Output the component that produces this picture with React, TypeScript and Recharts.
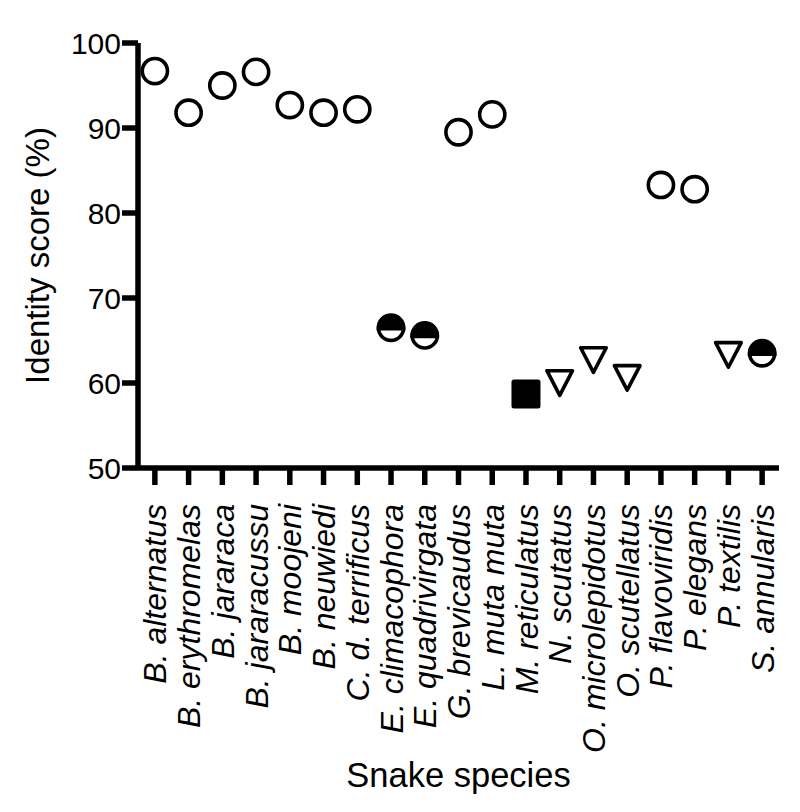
import { ScatterChart, Scatter, XAxis, YAxis } from "recharts";

const species = [
  "B. alternatus",
  "B. erythromelas",
  "B. jararaca",
  "B. jararacussu",
  "B. moojeni",
  "B. neuwiedi",
  "C. d. terrificus",
  "E. climacophora",
  "E. quadrivirgata",
  "G. brevicaudus",
  "L. muta muta",
  "M. reticulatus",
  "N. scutatus",
  "O. microlepidotus",
  "O. scutellatus",
  "P. flavoviridis",
  "P. elegans",
  "P. textilis",
  "S. annularis",
];

const identityScores = [
  96.7, 91.8, 95.0, 96.6, 92.7, 91.8, 92.2, 66.5, 65.6, 89.5, 91.6, 58.7, 60.0,
  62.7, 60.6, 83.3, 82.8, 63.3, 63.5,
];

// marker group for each species
const groups = [
  "open", "open", "open", "open", "open", "open", "open",
  "half", "half", "open", "open", "square",
  "triangle", "triangle", "triangle", "open", "open", "triangle", "half",
];

const yTicks = [50, 60, 70, 80, 90, 100];

const points = species.map((name, i) => ({
  species: name,
  score: identityScores[i],
  group: groups[i],
}));

const FONT = "'Liberation Sans', Arial, Helvetica, sans-serif";
const STROKE = 3.6;
const AXIS_W = 5.5;

const Marker = (props: any) => {
  const { cx, cy, payload } = props;
  if (cx == null || cy == null) return null;
  const r = 12.6;
  switch (payload.group) {
    case "square":
      return (
        <rect x={cx - 14.5} y={cy - 14.5} width={29} height={29} rx={2.5} fill="#000" />
      );
    case "triangle": {
      const h = 12.3;
      const w = 12.8;
      return (
        <path
          d={`M${cx - w},${cy - h} L${cx + w},${cy - h} L${cx},${cy + h} Z`}
          fill="#fff"
          stroke="#000"
          strokeWidth={STROKE}
          strokeLinejoin="round"
        />
      );
    }
    case "half":
      return (
        <g>
          <circle cx={cx} cy={cy} r={r} fill="#fff" stroke="#000" strokeWidth={STROKE} />
          <path
            d={`M${cx - r},${cy + 1} A${r},${r} 0 0 1 ${cx + r},${cy + 1} Z`}
            fill="#000"
            stroke="#000"
            strokeWidth={STROKE}
          />
        </g>
      );
    default:
      return <circle cx={cx} cy={cy} r={r} fill="#fff" stroke="#000" strokeWidth={STROKE} />;
  }
};

const SpeciesTick = ({ x, y, payload }: any) => (
  <g transform={`translate(${x},${y})`}>
    <text
      transform="rotate(-90)"
      textAnchor="end"
      dy="0.36em"
      fontSize={32}
      fontStyle="italic"
      fontFamily={FONT}
      fill="#000"
    >
      {payload.value}
    </text>
  </g>
);

const YTitle = ({ viewBox }: any) => {
  const x = 49;
  const y = viewBox.y + viewBox.height / 2;
  return (
    <text
      x={x}
      y={y}
      transform={`rotate(-90, ${x}, ${y})`}
      textAnchor="middle"
      fontSize={33}
      fontFamily={FONT}
      fill="#000"
    >
      Identity score (%)
    </text>
  );
};

const XTitle = ({ viewBox }: any) => {
  const x = viewBox.x + viewBox.width / 2;
  return (
    <text x={x} y={787} textAnchor="middle" fontSize={34.5} fontFamily={FONT} fill="#000">
      Snake species
    </text>
  );
};

export default function App() {
  return (
    <div style={{ position: "absolute", left: 0, top: 0, background: "#fff" }}>
      <ScatterChart
        width={800}
        height={812}
        margin={{ top: 43, right: 21, bottom: 0, left: 0 }}
      >
        <XAxis
          type="category"
          dataKey="species"
          allowDuplicatedCategory={false}
          height={344}
          interval={0}
          tickSize={17}
          tickMargin={19}
          axisLine={{ stroke: "#000", strokeWidth: AXIS_W }}
          tickLine={{ stroke: "#000", strokeWidth: AXIS_W }}
          tick={<SpeciesTick />}
          label={{ content: (p: any) => <XTitle viewBox={p.viewBox} /> }}
        />
        <YAxis
          type="number"
          dataKey="score"
          domain={[50, 100]}
          ticks={yTicks}
          width={138}
          tickSize={16}
          tickMargin={1}
          axisLine={{ stroke: "#000", strokeWidth: AXIS_W }}
          tickLine={{ stroke: "#000", strokeWidth: AXIS_W }}
          tick={{ fill: "#000", fontSize: 30, fontFamily: FONT }}
          label={{ content: (p: any) => <YTitle viewBox={p.viewBox} /> }}
        />
        <Scatter data={points} shape={Marker} isAnimationActive={false} />
      </ScatterChart>
    </div>
  );
}
